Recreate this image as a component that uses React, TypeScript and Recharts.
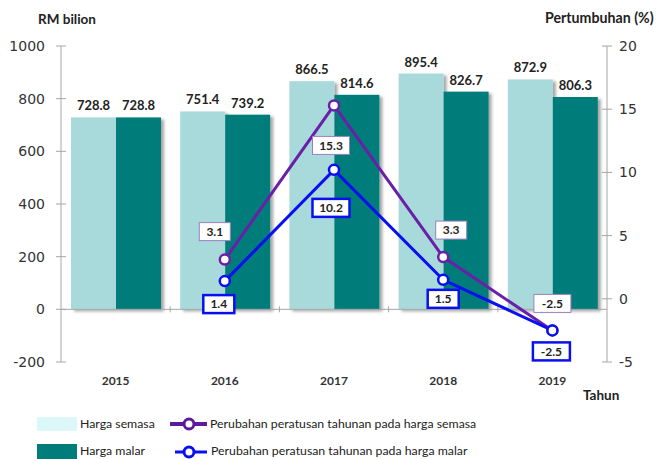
import React from 'react';
import { ComposedChart, Bar, Line, XAxis, YAxis, ReferenceLine, LabelList } from 'recharts';

const years = ['2015', '2016', '2017', '2018', '2019'];
const hargaSemasa = [728.8, 751.4, 866.5, 895.4, 872.9];
const hargaMalar = [728.8, 739.2, 814.6, 826.7, 806.3];
const pctSemasa: (number | null)[] = [null, 3.1, 15.3, 3.3, -2.5];
const pctMalar: (number | null)[] = [null, 1.4, 10.2, 1.5, -2.5];
const leftTicks = [-200, 0, 200, 400, 600, 800, 1000];
const rightTicks = [-5, 0, 5, 10, 15, 20];

const data = years.map((y, i) => ({
  year: y,
  semasa: hargaSemasa[i],
  malar: hargaMalar[i],
  pSemasa: pctSemasa[i],
  pMalar: pctMalar[i],
}));

const W = 657;
const H = 459;
const AXIS = '#a6a6a6';
const TXT = '#333333';
const LIGHT = '#a9dadb';
const DARK = '#007d7a';
const PURPLE = '#6a1fa8';
const BLUE = '#0a0ff0';
const FONT = 'Lato, "DejaVu Sans", sans-serif';
const TICKFONT = '"DejaVu Sans", sans-serif';

// label box placement relative to point (dx, dy to box center)
const purpleLabelPos = [[0, 0], [-10, -28], [-3, 40], [8, -27], [0, -27]];
const blueLabelPos = [[0, 0], [-6, 23], [-3, 38], [0, 19], [-1, 21]];

const LeftTick = (props: any) => {
  const { x, y, payload } = props;
  return (
    <g>
      <line x1={x + 11} x2={x + 21} y1={y} y2={y} stroke={AXIS} strokeWidth={1} />
      <text x={x} y={y} dy="0.35em" textAnchor="end" fontFamily={TICKFONT} fontSize={14} fill={TXT}>
        {payload.value}
      </text>
    </g>
  );
};

const RightTick = (props: any) => {
  const { x, y, payload } = props;
  return (
    <g>
      <line x1={x - 17} x2={x - 7} y1={y} y2={y} stroke={AXIS} strokeWidth={1} />
      <text x={x} y={y} dy="0.35em" textAnchor="start" fontFamily={TICKFONT} fontSize={14} fill={TXT}>
        {payload.value}
      </text>
    </g>
  );
};

const XTick = (props: any) => {
  const { x, y, payload } = props;
  return (
    <text x={x} y={y} dy="0.35em" textAnchor="middle" fontFamily={FONT} fontWeight={700} fontSize={12} fill={TXT}>
      {payload.value}
    </text>
  );
};

const ZeroLine = (props: any) => {
  const { x1, x2, y1 } = props;
  const n = years.length;
  const step = (x2 - x1) / n;
  const ticks = [];
  for (let i = 1; i < n; i++) {
    const tx = x1 + step * i;
    ticks.push(<line key={i} x1={tx} x2={tx} y1={y1 - 3} y2={y1 + 3} stroke={AXIS} strokeWidth={1} />);
  }
  return (
    <g>
      <line x1={x1} x2={x2} y1={y1} y2={y1} stroke={AXIS} strokeWidth={1} />
      {ticks}
    </g>
  );
};

const ShadowBar = (props: any) => {
  const { x, y, width, height, fill } = props;
  return <rect x={x} y={y} width={width} height={height} fill={fill} filter="url(#barShadow)" />;
};

const makeBoxLabel = (pos: number[][], border: string, bw: number) => (props: any) => {
  const { x, y, value, index } = props;
  if (value === null || value === undefined) return null;
  const [dx, dy] = pos[index] || [0, 0];
  const s = String(value);
  const w = s.length * 6 + 13;
  const h = 18;
  const cx = x + dx;
  const cy = y + dy;
  return (
    <g>
      <rect x={cx - w / 2} y={cy - h / 2} width={w} height={h} fill="#ffffff" stroke={border} strokeWidth={bw} />
      <text x={cx} y={cy} dy="0.35em" textAnchor="middle" fontFamily={FONT} fontWeight={700} fontSize={12} fill="#222">
        {s}
      </text>
    </g>
  );
};

const barLabelStyle = { fontFamily: FONT, fontWeight: 700, fontSize: 13, fill: '#222' };
const legendText = { position: 'absolute' as const, fontSize: 12.3, color: '#222', whiteSpace: 'nowrap' as const, lineHeight: '16px' };

export default function App() {
  return (
    <div style={{ position: 'absolute', left: 0, top: 0, width: W, height: H, background: '#fff', fontFamily: FONT }}>
      <svg width={0} height={0} style={{ position: 'absolute' }}>
        <defs>
          <filter id="barShadow" x="-20%" y="-10%" width="150%" height="130%">
            <feDropShadow dx={3} dy={2} stdDeviation={1.5} floodColor="#000" floodOpacity={0.35} />
          </filter>
        </defs>
      </svg>
      <ComposedChart
        width={W}
        height={H}
        data={data}
        margin={{ top: 46, right: 0, bottom: 67, left: 0 }}
        barGap={0}
      >
        <XAxis
          dataKey="year"
          xAxisId="x"
          axisLine={false}
          tickLine={false}
          tickSize={0}
          tickMargin={19}
          height={30}
          tick={<XTick />}
          interval={0}
        />
        <YAxis
          yAxisId="left"
          orientation="left"
          width={61}
          domain={[-200, 1000]}
          ticks={leftTicks}
          axisLine={{ stroke: AXIS }}
          tickLine={false}
          tickSize={0}
          tickMargin={16}
          tick={<LeftTick />}
          interval={0}
        />
        <YAxis
          yAxisId="right"
          orientation="right"
          width={50}
          domain={[-5, 20]}
          ticks={rightTicks}
          axisLine={{ stroke: AXIS }}
          tickLine={false}
          tickSize={0}
          tickMargin={12}
          tick={<RightTick />}
          interval={0}
        />
        <ReferenceLine y={0} yAxisId="left" xAxisId="x" shape={<ZeroLine />} />
        <Bar dataKey="semasa" xAxisId="x" yAxisId="left" fill={LIGHT} barSize={45} isAnimationActive={false} shape={<ShadowBar />}>
          <LabelList dataKey="semasa" position="top" offset={7} style={barLabelStyle} />
        </Bar>
        <Bar dataKey="malar" xAxisId="x" yAxisId="left" fill={DARK} barSize={45} isAnimationActive={false} shape={<ShadowBar />}>
          <LabelList dataKey="malar" position="top" offset={7} style={barLabelStyle} />
        </Bar>
        <Line
          dataKey="pSemasa"
          xAxisId="x"
          yAxisId="right"
          stroke={PURPLE}
          strokeWidth={3}
          dot={{ r: 5, fill: '#fff', stroke: PURPLE, strokeWidth: 2.5 }}
          isAnimationActive={false}
        >
          <LabelList dataKey="pSemasa" content={makeBoxLabel(purpleLabelPos, '#9b7fc0', 1)} />
        </Line>
        <Line
          dataKey="pMalar"
          xAxisId="x"
          yAxisId="right"
          stroke={BLUE}
          strokeWidth={3}
          dot={{ r: 5, fill: '#fff', stroke: BLUE, strokeWidth: 2.5 }}
          isAnimationActive={false}
        >
          <LabelList dataKey="pMalar" content={makeBoxLabel(blueLabelPos, BLUE, 2.5)} />
        </Line>
      </ComposedChart>

      {/* Axis titles */}
      <div style={{ position: 'absolute', left: 38, top: 11, fontSize: 13.5, fontWeight: 700, color: '#222', whiteSpace: 'nowrap' }}>RM bilion</div>
      <div style={{ position: 'absolute', left: 545, top: 9, fontSize: 14.2, fontWeight: 700, color: '#222', whiteSpace: 'nowrap' }}>Pertumbuhan (%)</div>
      <div style={{ position: 'absolute', left: 583, top: 387, fontSize: 13.5, fontWeight: 700, color: '#222', whiteSpace: 'nowrap' }}>Tahun</div>

      {/* Legend */}
      <div style={{ position: 'absolute', left: 37, top: 417, width: 40, height: 14, background: '#dcf7f7' }} />
      <div style={{ ...legendText, left: 80, top: 416 }}>Harga semasa</div>
      <div style={{ position: 'absolute', left: 37, top: 444, width: 40, height: 15, background: DARK }} />
      <div style={{ ...legendText, left: 80, top: 443 }}>Harga malar</div>

      <svg width={45} height={459} style={{ position: 'absolute', left: 165, top: 0 }}>
        <line x1={5} x2={42} y1={424} y2={424} stroke="#5e1a9c" strokeWidth={4} />
        <circle cx={24} cy={424} r={5} fill="#fff" stroke="#5e1a9c" strokeWidth={3} />
        <line x1={10} x2={42} y1={452} y2={452} stroke={BLUE} strokeWidth={3} />
        <circle cx={24} cy={452} r={5} fill="#fff" stroke={BLUE} strokeWidth={3} />
      </svg>
      <div style={{ ...legendText, left: 210, top: 416 }}>Perubahan peratusan tahunan pada harga semasa</div>
      <div style={{ ...legendText, left: 211, top: 443 }}>Perubahan peratusan tahunan pada harga malar</div>
    </div>
  );
}
